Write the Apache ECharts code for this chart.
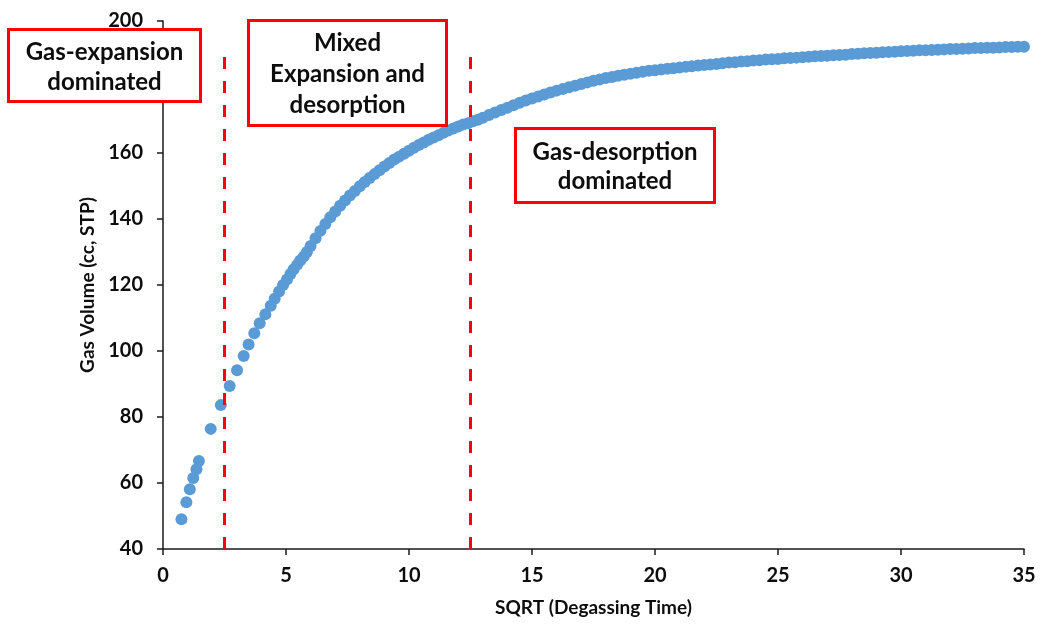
<!DOCTYPE html>
<html>
<head>
<meta charset="utf-8">
<script src="https://cdn.jsdelivr.net/npm/echarts@6/dist/echarts.min.js"></script>
<style>
html,body{margin:0;padding:0;background:#fff;}
#chart{width:1042px;height:624px;}
</style>
</head>
<body>
<div id="chart"></div>
<script>
// SQRT(degassing time) readings
var sqrtTime = [
  0.75,0.95,1.09,1.23,1.36,1.46,1.94,2.35,2.71,3.01,3.28,3.48,3.71,3.93,4.16,4.38,4.54,4.72,4.88,5.04,5.18,5.31,5.45,5.58,5.72,5.85,
  6.0,6.2,6.4,6.6,6.8,7.0,7.2,7.4,7.6,7.8,8.0,8.2,8.4,8.6,8.8,9.0,9.2,9.4,9.6,9.8,10.0,10.2,10.4,10.6,10.8,11.0,11.2,11.4,11.6,11.8,12.0,12.2,12.4,12.6,12.8,
  13.0,13.25,13.5,13.75,14.0,14.25,14.5,14.75,15.0,15.25,15.5,15.75,16.0,16.25,16.5,16.75,17.0,17.25,17.5,17.75,18.0,18.25,18.5,18.75,19.0,19.25,19.5,19.75,
  20.0,20.25,20.5,20.75,21.0,21.25,21.5,21.75,22.0,22.25,22.5,22.75,23.0,23.25,23.5,23.75,24.0,24.25,24.5,24.75,25.0,25.25,25.5,25.75,26.0,26.25,26.5,26.75,
  27.0,27.25,27.5,27.75,28.0,28.25,28.5,28.75,29.0,29.25,29.5,29.75,30.0,30.25,30.5,30.75,31.0,31.25,31.5,31.75,32.0,32.25,32.5,32.75,33.0,33.25,33.5,33.75,
  34.0,34.25,34.5,34.75,35.0
];
// Gas volume (cc, STP) readings
var gasVolume = [
  49.0,54.2,58.1,61.5,64.2,66.7,76.4,83.6,89.4,94.2,98.5,102.0,105.4,108.4,111.1,113.7,115.8,118.0,120.0,121.7,123.3,124.8,126.1,127.4,128.6,130.0,
  131.8,134.2,136.4,138.5,140.5,142.3,144.0,145.6,147.1,148.5,149.9,151.2,152.4,153.6,154.8,155.9,157.0,158.0,158.9,159.8,160.7,161.6,162.4,163.2,164.0,164.7,165.4,166.1,166.8,167.4,168.0,168.6,169.0,169.6,170.1,
  170.7,171.5,172.3,173.0,173.7,174.5,175.2,175.9,176.5,177.1,177.7,178.3,178.9,179.4,179.9,180.4,180.9,181.4,181.9,182.3,182.7,183.0,183.4,183.7,184.0,184.3,184.6,184.9,
  185.1,185.3,185.5,185.7,185.9,186.1,186.3,186.5,186.7,186.8,187.0,187.2,187.4,187.5,187.7,187.8,188.0,188.1,188.3,188.4,188.5,188.7,188.8,188.9,189.0,189.2,189.3,189.4,
  189.5,189.6,189.7,189.8,190.0,190.1,190.2,190.3,190.4,190.5,190.6,190.7,190.8,190.9,191.0,191.1,191.1,191.2,191.3,191.4,191.5,191.5,191.6,191.7,191.8,191.8,191.9,191.9,
  192.0,192.1,192.1,192.2,192.2
];
// phase boundaries (sqrt time) and top of the dashed markers
var phaseBoundaries = [2.5, 12.5];
var boundaryTop = 191.2;
// axis settings
var xMin = 0, xMax = 35, xStep = 5;
var yMin = 40, yMax = 200, yStep = 20;
var xTitle = 'SQRT (Degassing Time)';
var yTitle = 'Gas Volume (cc, STP)';
// annotation boxes
var boxLabels = [
  ['Gas-expansion', 'dominated'],
  ['Mixed', 'Expansion and', 'desorption'],
  ['Gas-desorption', 'dominated']
];

var points = sqrtTime.map(function (x, i) { return [x, gasVolume[i]]; });

var boxGeom = [
  {x: 7, y: 28, w: 195, h: 75, lines: [52, 82]},
  {x: 247, y: 19, w: 201, h: 108, lines: [43, 74, 105]},
  {x: 514, y: 127, w: 202, h: 77, lines: [152, 181]}
];
var graphics = [];
boxGeom.forEach(function (b, bi) {
  graphics.push({
    type: 'rect', z: 100,
    shape: {x: b.x + 1.5, y: b.y + 1.5, width: b.w - 3, height: b.h - 3},
    style: {fill: '#ffffff', stroke: '#ff0000', lineWidth: 3}
  });
  boxLabels[bi].forEach(function (t, li) {
    graphics.push({
      type: 'text', z: 101,
      x: b.x + b.w / 2, y: b.lines[li],
      style: {text: t, fill: '#0d0d0d', font: 'bold 24px Lato', textAlign: 'center', textVerticalAlign: 'middle'}
    });
  });
});

var chart = echarts.init(document.getElementById('chart'));
var textColor = '#0d0d0d';
chart.setOption({
  animation: false,
  backgroundColor: '#ffffff',
  grid: {left: 163, right: 18, top: 21, bottom: 75, containLabel: false, outerBoundsMode: 'none'},
  xAxis: {
    type: 'value', min: xMin, max: xMax, interval: xStep,
    name: xTitle, nameLocation: 'middle', nameGap: 49,
    nameTextStyle: {fontFamily: 'Lato', fontWeight: 'bold', fontSize: 19, color: textColor},
    axisLine: {show: true, onZero: false, lineStyle: {color: '#1a1a1a', width: 1.5}},
    axisTick: {show: true, inside: false, length: 6, lineStyle: {color: '#1a1a1a', width: 1.5}},
    axisLabel: {margin: 17, fontFamily: 'Lato', fontWeight: 'bold', fontSize: 20, color: textColor},
    splitLine: {show: false}
  },
  yAxis: {
    type: 'value', min: yMin, max: yMax, interval: yStep,
    name: yTitle, nameLocation: 'middle', nameGap: 62,
    nameTextStyle: {fontFamily: 'Lato', fontWeight: 'bold', fontSize: 19, color: textColor},
    axisLine: {show: true, onZero: false, lineStyle: {color: '#1a1a1a', width: 1.5}},
    axisTick: {show: true, inside: false, length: 6, lineStyle: {color: '#1a1a1a', width: 1.5}},
    axisLabel: {margin: 20, fontFamily: 'Lato', fontWeight: 'bold', fontSize: 20, color: textColor},
    splitLine: {show: false}
  },
  series: [
    {
      type: 'scatter',
      data: points,
      symbol: 'circle',
      symbolSize: 12,
      itemStyle: {color: '#5b9bd5', opacity: 1},
      z: 2
    },
    {
      type: 'line',
      data: [],
      z: 5,
      markLine: {
        silent: true,
        symbol: ['none', 'none'],
        label: {show: false},
        lineStyle: {color: '#ff0000', width: 3, type: [12, 12]},
        data: phaseBoundaries.map(function (x) {
          return [{coord: [x, yMin]}, {coord: [x, boundaryTop]}];
        })
      }
    }
  ],
  graphic: graphics
});
</script>
</body>
</html>
